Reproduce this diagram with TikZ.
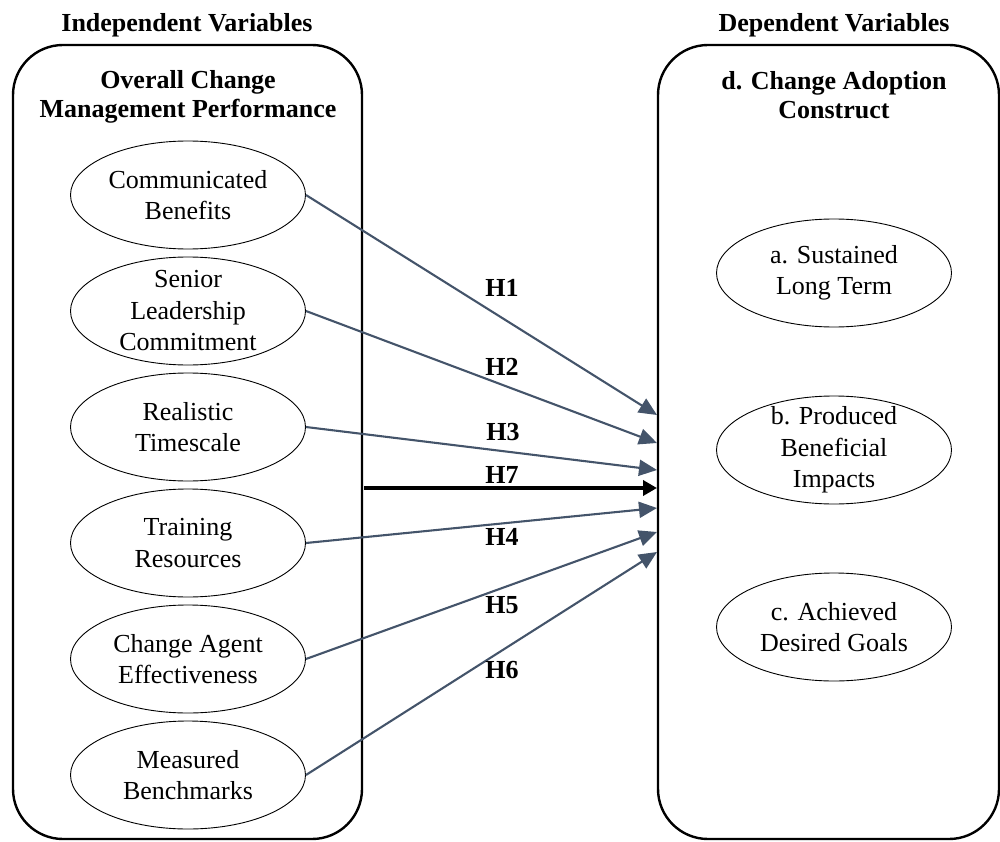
\documentclass[tikz,border=0pt]{standalone}
\usepackage{fontspec}
\setmainfont{Liberation Serif}
\usetikzlibrary{arrows.meta,shapes.geometric}
\definecolor{linkgray}{HTML}{44546A}

\begin{document}
\begin{tikzpicture}[x=1pt,y=-1pt,->,>={Triangle[length=15pt,width=13pt]},
node distance=116pt,
var node/.style={ellipse,draw,line width=0.9pt,minimum width=235pt,minimum height=108pt,
  inner sep=0pt,align=center,font=\fontsize{26}{31.5}\selectfont},
panel/.style={draw,rounded corners=50pt,line width=2.4pt},
title/.style={align=center,font=\fontsize{26}{29}\selectfont\bfseries},
hyp/.style={font=\fontsize{26}{29}\selectfont\bfseries},
link/.style={draw=linkgray,line width=2.1pt,-{Triangle[length=18pt,width=16pt]}}]

\useasboundingbox (0,0) rectangle (1000,842);

% outer panels
\node[panel,minimum width=349pt,minimum height=794pt] (indep) at (187.5,442) {};
\node[panel,minimum width=341pt,minimum height=794pt] (dep) at (828.5,442) {};

\node[title] (indtitle) at (187,25) {Independent Variables};
\node[title] (deptitle) at (834,25) {Dependent Variables};
\node[title] (overall) at (188,97) {Overall Change\\Management Performance};
\node[title] (adopt) at (834,95) {d. Change Adoption\\Construct};

% independent constructs
\node[var node] (comm) at (188,195) {Communicated\\Benefits};
\node[var node,inner ysep=-20pt] (senior) [below of=comm] {Senior\\Leadership\\Commitment};
\node[var node] (time) [below of=senior] {Realistic\\Timescale};
\node[var node] (train) [below of=time] {Training\\Resources};
\node[var node] (agent) [below of=train] {Change Agent\\Effectiveness};
\node[var node] (bench) [below of=agent] {Measured\\Benchmarks};

% dependent constructs
\node[var node] (sust) at (834,273) {a. Sustained\\Long Term};
\node[var node,inner ysep=-20pt] (impact) [below of=sust,node distance=177pt] {b. Produced\\Beneficial\\Impacts};
\node[var node] (goals) [below of=impact,node distance=177pt] {c. Achieved\\Desired Goals};

\coordinate (t1) at (657,415);
\coordinate (t2) at (657,443);
\coordinate (t3) at (657,470);
\coordinate (s7) at (364,488);
\coordinate (t7) at (657,488);
\coordinate (t4) at (657,508);
\coordinate (t5) at (657,532);
\coordinate (t6) at (657,552);

\path
(comm.east) edge[link] (t1)
(senior.east) edge[link] (t2)
(time.east) edge[link] (t3)
(train.east) edge[link] (t4)
(agent.east) edge[link] (t5)
(bench.east) edge[link] (t6);
\draw[line width=3.5pt,>={Triangle[length=14pt,width=15pt]}] (s7) -- (t7);

\node[hyp] (h1) at (502,288) {H1};
\node[hyp] (h2) at (502,367) {H2};
\node[hyp] (h3) at (503,432) {H3};
\node[hyp] (h7) at (502,475) {H7};
\node[hyp] (h4) at (502,537) {H4};
\node[hyp] (h5) at (502,605) {H5};
\node[hyp] (h6) at (502,670) {H6};

\end{tikzpicture}
\end{document}
